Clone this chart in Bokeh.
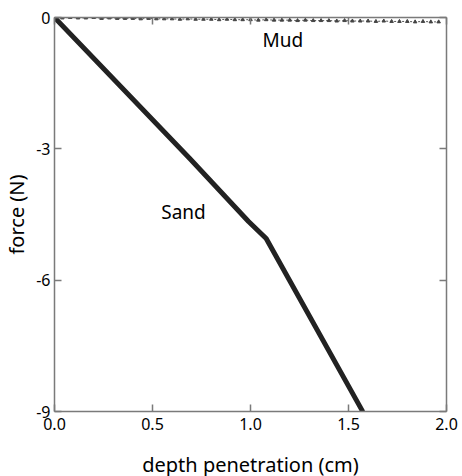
from bokeh.plotting import figure
from bokeh.models import LinearAxis, FixedTicker, Range1d, Label
from bokeh.embed import file_html
from bokeh.resources import INLINE

# Sand series (depth cm, force N)
sand_x = [0.00, 0.69, 0.99, 1.08, 1.57]
sand_y = [0.00, -3.22, -4.66, -5.05, -8.98]

# Mud series
mud_x = [0.00, 0.04, 0.08, 0.12, 0.16, 0.20, 0.24, 0.28, 0.32, 0.36,
         0.40, 0.44, 0.48, 0.52, 0.56, 0.60, 0.64, 0.68, 0.72, 0.76,
         0.80, 0.84, 0.88, 0.92, 0.96, 1.00, 1.04, 1.08, 1.12, 1.16,
         1.20, 1.24, 1.28, 1.32, 1.36, 1.40, 1.44, 1.48, 1.52, 1.56,
         1.60, 1.64, 1.68, 1.72, 1.76, 1.80, 1.84, 1.88, 1.92, 1.96]
mud_y = [0.00, -0.01, 0.00, -0.01, -0.01, 0.00, -0.02, -0.01, -0.02, -0.02,
         -0.02, -0.03, -0.02, -0.03, -0.03, -0.03, -0.04, -0.03, -0.04, -0.04,
         -0.04, -0.05, -0.04, -0.05, -0.05, -0.05, -0.06, -0.05, -0.06, -0.06,
         -0.06, -0.07, -0.06, -0.07, -0.07, -0.07, -0.08, -0.07, -0.08, -0.08,
         -0.08, -0.09, -0.08, -0.09, -0.09, -0.09, -0.10, -0.09, -0.10, -0.10]

x_ticks = [0.0, 0.5, 1.0, 1.5, 2.0]
x_tick_labels = ["0.0", "0.5", "1.0", "1.5", "2.0"]
y_ticks = [0, -3, -6, -9]
y_tick_labels = ["0", "-3", "-6", "-9"]

FONT = "Noto Sans"
AXIS_COLOR = "#7a7a7a"

p = figure(frame_width=392, frame_height=394, output_backend="svg", toolbar_location=None,
           x_range=Range1d(0, 2), y_range=Range1d(-9, 0),
           x_axis_label="depth penetration (cm)", y_axis_label="force (N)",
           min_border_left=54, min_border_right=14, min_border_top=17, min_border_bottom=64)
p.outline_line_color = None
p.grid.visible = False
p.background_fill_color = "white"
p.border_fill_color = "white"

def style(ax, labels=True):
    ax.axis_line_color = AXIS_COLOR
    ax.axis_line_width = 1.5
    ax.major_tick_line_color = AXIS_COLOR
    ax.major_tick_line_width = 1.5
    ax.major_tick_in = 7
    ax.major_tick_out = 0
    ax.minor_tick_line_color = None
    ax.major_label_text_font = FONT
    ax.major_label_text_font_size = "16px"
    ax.major_label_text_color = "black"
    ax.axis_label_text_font = FONT
    ax.axis_label_text_font_size = "20px"
    ax.axis_label_text_font_style = "normal"
    ax.axis_label_text_color = "black"
    if not labels:
        ax.major_label_text_font_size = "0px"
        ax.major_label_text_color = None

xa = p.xaxis[0]
xa.ticker = FixedTicker(ticks=x_ticks)
xa.major_label_overrides = {t: s for t, s in zip(x_ticks, x_tick_labels)}
style(xa)
xa.major_label_standoff = 6
xa.axis_label_standoff = 18
ya = p.yaxis[0]
ya.ticker = FixedTicker(ticks=y_ticks)
ya.major_label_overrides = {t: s for t, s in zip(y_ticks, y_tick_labels)}
style(ya)
ya.major_label_standoff = 4
ya.axis_label_standoff = 3
ya.major_label_orientation = "horizontal"

top = LinearAxis(ticker=FixedTicker(ticks=x_ticks))
style(top, labels=False)
p.add_layout(top, "above")
right = LinearAxis(ticker=FixedTicker(ticks=y_ticks))
style(right, labels=False)
p.add_layout(right, "right")

# Mud: dotted line with small triangle markers
p.line(mud_x, mud_y, line_color="#555555", line_width=1, line_dash="2 2")
p.scatter(mud_x, mud_y, marker="triangle", size=3.5, fill_color="#444444", line_color="#444444")

# Sand: thick dark line
p.line(sand_x, sand_y, line_color="#222222", line_width=5, line_join="round", line_cap="round")

p.add_layout(Label(x=1.165, y=-0.52, text="Mud", text_font=FONT, text_font_size="19px",
                   text_align="center", text_baseline="middle", text_color="black"))
p.add_layout(Label(x=0.658, y=-4.45, text="Sand", text_font=FONT, text_font_size="19px",
                   text_align="center", text_baseline="middle", text_color="black"))

open("out.html", "w").write(file_html(p, INLINE))
